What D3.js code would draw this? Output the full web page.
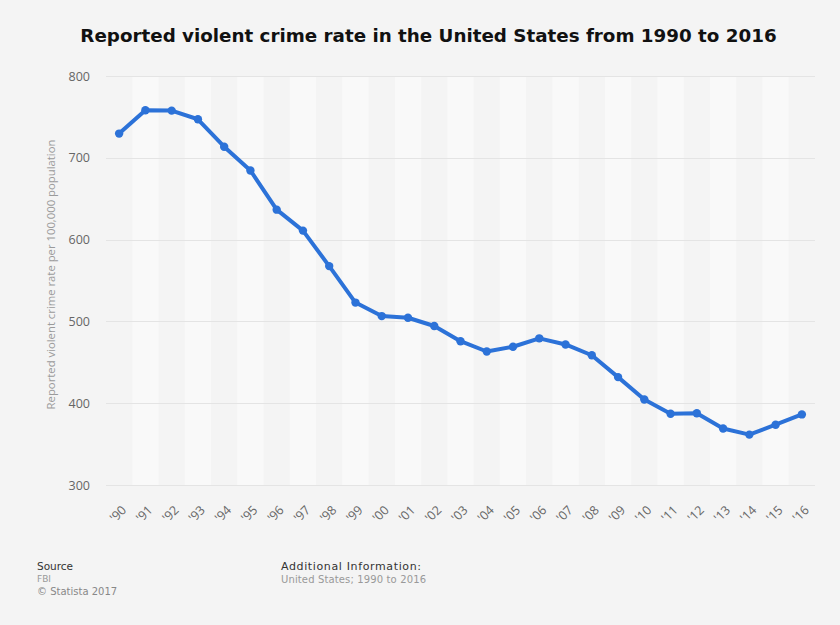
<!DOCTYPE html>
<html>
<head>
<meta charset="utf-8">
<script src="https://cdn.jsdelivr.net/npm/d3@7"></script>
<style>
  html, body { margin: 0; padding: 0; background: #f4f4f4; }
  svg { display: block; }
</style>
</head>
<body>
<svg id="chart" width="840" height="625"></svg>
<script>
// Reported violent crime rate per 100,000 population, United States (FBI)
const years = ["'90","'91","'92","'93","'94","'95","'96","'97","'98","'99","'00","'01","'02","'03",
               "'04","'05","'06","'07","'08","'09","'10","'11","'12","'13","'14","'15","'16"];
const rates = [729.6, 758.2, 757.7, 747.1, 713.6, 684.5, 636.6, 611.0, 567.6, 523.0, 506.5, 504.5, 494.4, 475.8,
               463.2, 469.0, 479.3, 471.8, 458.6, 431.9, 404.5, 387.1, 387.8, 369.1, 361.6, 373.7, 386.3];
const yTicks = [300, 400, 500, 600, 700, 800];

const titleText = "Reported violent crime rate in the United States from 1990 to 2016";
const yAxisTitle = "Reported violent crime rate per 100,000 population";

const W = 840, H = 625;
const margin = { left: 106, right: 25, top: 76, bottom: 140 };
const svg = d3.select("#chart");

svg.append("rect").attr("width", W).attr("height", H).attr("fill", "#f4f4f4");

const x = d3.scaleBand().domain(years).range([margin.left, W - margin.right]).padding(0);
const y = d3.scaleLinear().domain([300, 800]).range([H - margin.bottom, margin.top]);

// alternating column stripes
svg.append("g").selectAll("rect")
  .data(years.filter((d, i) => i % 2 === 1))
  .join("rect")
  .attr("x", d => x(d))
  .attr("y", y(800))
  .attr("width", x.bandwidth())
  .attr("height", y(300) - y(800))
  .attr("fill", "#f9f9f9");

// horizontal grid lines
svg.append("g").selectAll("line")
  .data(yTicks)
  .join("line")
  .attr("x1", margin.left)
  .attr("x2", W - margin.right)
  .attr("y1", d => Math.round(y(d)) + 0.5)
  .attr("y2", d => Math.round(y(d)) + 0.5)
  .attr("stroke", "#e4e4e4")
  .attr("stroke-width", 1);

// y axis labels
const yAxis = d3.axisLeft(y).tickValues(yTicks).tickSize(0).tickPadding(0);
const gy = svg.append("g").attr("transform", `translate(${margin.left - 16},0)`).call(yAxis);
gy.select(".domain").remove();
gy.selectAll("text")
  .attr("font-family", "'Open Sans', sans-serif")
  .attr("font-size", 12.5)
  .attr("fill", "#666");

// x axis labels (rotated)
const xAxis = d3.axisBottom(x).tickSize(0).tickPadding(0);
const gx = svg.append("g").attr("transform", `translate(0,${y(300)})`).call(xAxis);
gx.select(".domain").remove();
gx.selectAll("text")
  .attr("font-family", "'Open Sans', sans-serif")
  .attr("font-size", 12.5)
  .attr("fill", "#666")
  .attr("text-anchor", "end")
  .attr("dy", null)
  .attr("y", null)
  .attr("transform", "translate(8,26) rotate(-45)");

// y axis title
svg.append("text")
  .attr("transform", `translate(55,${(y(300) + y(800)) / 2 - 6}) rotate(-90)`)
  .attr("text-anchor", "middle")
  .attr("font-family", "'Open Sans', sans-serif")
  .attr("font-size", 11.3)
  .attr("fill", "#9a9a9a")
  .text(yAxisTitle);

// line
const line = d3.line()
  .x((d, i) => x(years[i]) + x.bandwidth() / 2)
  .y(d => y(d));

svg.append("path")
  .datum(rates)
  .attr("d", line)
  .attr("fill", "none")
  .attr("stroke", "#2c72d8")
  .attr("stroke-width", 4)
  .attr("stroke-linejoin", "round");

svg.append("g").selectAll("circle")
  .data(rates)
  .join("circle")
  .attr("cx", (d, i) => x(years[i]) + x.bandwidth() / 2)
  .attr("cy", d => y(d))
  .attr("r", 4.2)
  .attr("fill", "#2c72d8");

// title
svg.append("text")
  .attr("x", 428.5)
  .attr("y", 42)
  .attr("text-anchor", "middle")
  .attr("font-family", "'DejaVu Sans', sans-serif")
  .attr("font-weight", "bold")
  .attr("font-size", 18.3)
  .attr("fill", "#111")
  .text(titleText);

// footer
const foot = svg.append("g").attr("font-family", "'DejaVu Sans', sans-serif").attr("font-size", 10);
foot.append("text").attr("x", 37).attr("y", 570).attr("fill", "#333").attr("font-size", 10.5).text("Source");
foot.append("text").attr("x", 37).attr("y", 582).attr("fill", "#999").attr("font-size", 9).text("FBI");
foot.append("text").attr("x", 37).attr("y", 595).attr("fill", "#888").text("© Statista 2017");
foot.append("text").attr("x", 281).attr("y", 570).attr("fill", "#333").attr("font-size", 11)
  .attr("textLength", 140).text("Additional Information:");
foot.append("text").attr("x", 281).attr("y", 583).attr("fill", "#999").attr("font-size", 10)
  .attr("textLength", 145).text("United States; 1990 to 2016");
</script>
</body>
</html>
